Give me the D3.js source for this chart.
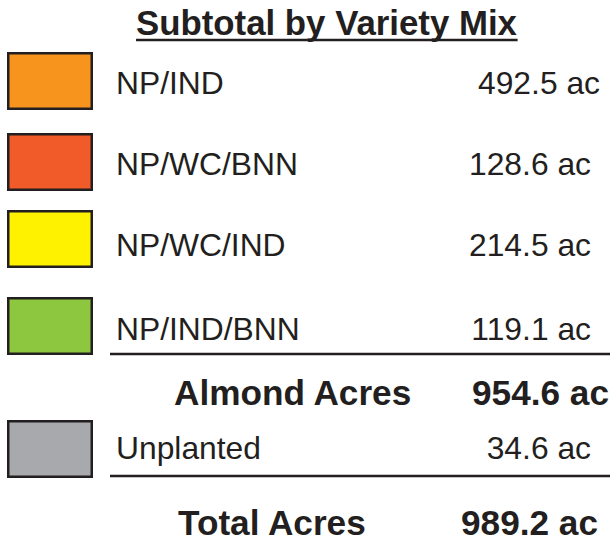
<!DOCTYPE html>
<html>
<head>
<meta charset="utf-8">
<script src="https://cdn.jsdelivr.net/npm/d3@7/dist/d3.min.js"></script>
<style>
  html, body { margin: 0; padding: 0; background: #ffffff; }
  svg { display: block; }
  text { font-family: "Liberation Sans", Arial, Helvetica, sans-serif; fill: #231F20; }
</style>
</head>
<body>
<svg id="chart" width="616" height="546"></svg>
<script>
// ---- data ----
const title = "Subtotal by Variety Mix";
const categories = ["NP/IND", "NP/WC/BNN", "NP/WC/IND", "NP/IND/BNN", "Unplanted"];
const acres = [492.5, 128.6, 214.5, 119.1, 34.6];
const colors = ["#F7941D", "#F15A29", "#FFF200", "#8DC63F", "#A7A9AC"];
const totalLabels = ["Almond Acres", "Total Acres"];
const totalValues = [954.6, 989.2];
const unit = "ac";

// ---- layout (kept separate from data) ----
const rowBaselines = [94, 175, 256, 340, 459];
const swatchTops = [52, 133, 210, 297, 420];
const valueRight = [600, 591, 591, 591, 591];
const totalBaselines = [405, 535];
const totalLabelX = [174, 178];
const totalValueRight = [609, 598];
const ruleYs = [354, 476];

const svg = d3.select("#chart");
const ink = "#231F20";

const yBase = d3.scaleOrdinal(categories, rowBaselines);
const ySwatch = d3.scaleOrdinal(categories, swatchTops);
const xValue = d3.scaleOrdinal(categories, valueRight);
const fill = d3.scaleOrdinal(categories, colors);
const fmt = d3.format(".1f");

// title
const t = svg.append("text")
  .attr("x", 326.5).attr("y", 35)
  .attr("text-anchor", "middle")
  .attr("font-size", 34.8).attr("font-weight", "bold")
  .text(title);
const tb = t.node().getBBox();
svg.append("line")
  .attr("x1", tb.x).attr("x2", tb.x + tb.width)
  .attr("y1", 40).attr("y2", 40)
  .attr("stroke", ink).attr("stroke-width", 2.6);

// rows
const rows = svg.append("g").selectAll("g")
  .data(categories.map((c, i) => ({ c, v: acres[i] })))
  .join("g");

rows.append("rect")
  .attr("x", 8.25)
  .attr("y", d => ySwatch(d.c) + 1.25)
  .attr("width", 83.5)
  .attr("height", 55.5)
  .attr("fill", d => fill(d.c))
  .attr("stroke", ink)
  .attr("stroke-width", 2.5);

rows.append("text")
  .attr("x", 116)
  .attr("y", d => yBase(d.c))
  .attr("font-size", 31.8)
  .text(d => d.c);

rows.append("text")
  .attr("x", d => xValue(d.c))
  .attr("y", d => yBase(d.c))
  .attr("text-anchor", "end")
  .attr("font-size", 31.8)
  .text(d => fmt(d.v) + " " + unit);

// rules
svg.append("g").selectAll("line")
  .data(ruleYs)
  .join("line")
  .attr("x1", 110).attr("x2", 610)
  .attr("y1", d => d).attr("y2", d => d)
  .attr("stroke", ink).attr("stroke-width", 2.5);

// totals
const totals = svg.append("g").selectAll("g")
  .data(totalLabels.map((l, i) => ({ l, v: totalValues[i], i })))
  .join("g");

totals.append("text")
  .attr("x", d => totalLabelX[d.i])
  .attr("y", d => totalBaselines[d.i])
  .attr("font-size", 35.2).attr("font-weight", "bold")
  .text(d => d.l);

totals.append("text")
  .attr("x", d => totalValueRight[d.i])
  .attr("y", d => totalBaselines[d.i])
  .attr("text-anchor", "end")
  .attr("font-size", 35.2).attr("font-weight", "bold")
  .text(d => fmt(d.v) + " " + unit);
</script>
</body>
</html>
